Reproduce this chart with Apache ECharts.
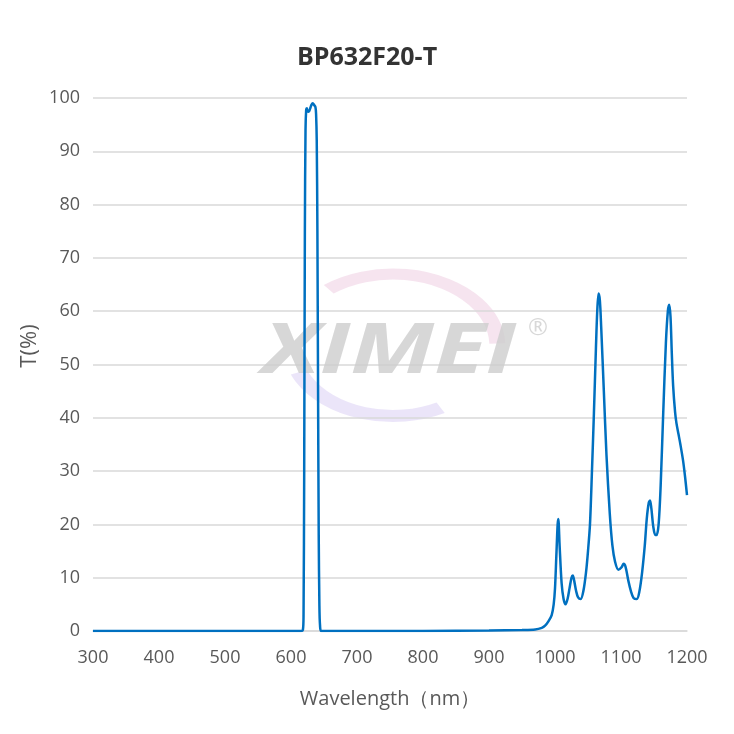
<!DOCTYPE html>
<html><head><meta charset="utf-8">
<script src="https://cdn.jsdelivr.net/npm/echarts@6/dist/echarts.min.js"></script>
<style>html,body{margin:0;padding:0;background:#fff}#c{width:734px;height:734px}</style>
</head><body><div id="c"></div>
<script>
const titleText = 'BP632F20-T';
const xName = 'Wavelength（nm）';
const yName = 'T(%)';
const wavelength = [300,400,500,600,615,618,619,620,621,622,623,624,625,627,629,631,633,635,637,638,639,640,641,642,643,644,646,700,800,900,950,970,980,985,990,995,998,1000,1002,1004,1005,1007,1010,1013,1016,1019,1022,1025,1027,1029,1032,1035,1039,1043,1047,1050,1053,1056,1059,1062,1064,1066,1068,1070,1074,1078,1083,1087,1091,1096,1101,1104,1107,1111,1115,1119,1124,1128,1132,1136,1139,1142,1144,1146,1149,1152,1154,1157,1160,1164,1168,1171,1173,1175,1177,1179,1182,1184,1187,1190,1194,1197,1200];
const transmission = [0,0,0,0,0,0.2,3,30,75,94,97.8,98.1,97.6,97.4,98,98.7,99,98.7,98.3,97,92,75,45,18,5,1,0,0,0,0.1,0.2,0.3,0.6,1,1.8,3,5,8,14,20,21,16,9,6,5,6,8,10,10.4,9.5,7.5,6.3,6,7.5,11,15,20,30,41,53,60,63.3,62,57,45,33,22,16,13,11.5,12,12.6,12,9.5,7.5,6.2,6,7.5,11,16,21,24,24.5,23,19.5,18,18,20,27,41,54,60,61.2,59,52,46,41,39,37,35,32,29,25.5];

const chart = echarts.init(document.getElementById('c'));
const font = '"Open Sans", "Noto Sans", sans-serif';
const deg = Math.PI / 180;
chart.setOption({
  animation: false,
  backgroundColor: '#fff',
  title: {text: titleText, left: 'center', top: 40,
    textStyle: {fontFamily: font, fontSize: 25, fontWeight: 'bold', color: '#333'}},
  graphic: [{
    type: 'arc', z: 0, silent: true, x: 393, y: 346, scaleX: 1.45,
    shape: {cx: 0, cy: 0, r: 72, startAngle: 232 * deg, endAngle: 358 * deg, clockwise: true},
    style: {stroke: 'rgba(240,210,228,0.6)', lineWidth: 11, fill: null}
  },{
    type: 'arc', z: 0, silent: true, x: 393, y: 346, scaleX: 1.45,
    shape: {cx: 0, cy: 0, r: 70, startAngle: 62 * deg, endAngle: 158 * deg, clockwise: true},
    style: {stroke: 'rgba(222,212,245,0.6)', lineWidth: 12, fill: null}
  },{
    type: 'text', left: 262, top: 318, z: 1, scaleX: 1.36, silent: true,
    style: {text: 'XIMEI', font: 'italic bold 70px "Open Sans", sans-serif', fill: 'rgba(205,205,205,0.8)'}
  },{
    type: 'text', left: 528, top: 316, z: 1, silent: true,
    style: {text: '®', font: '24px "Open Sans", sans-serif', fill: 'rgba(190,190,190,0.6)'}
  },{
    type: 'text', x: 30, y: 346, rotation: Math.PI / 2, z: 1,
    style: {text: yName, font: '22px "Open Sans", sans-serif', fill: '#595959', align: 'center', verticalAlign: 'middle'}
  }],
  grid: {left: 93, right: 47, top: 98, bottom: 103},
  xAxis: {
    type: 'value', min: 300, max: 1200, interval: 100,
    name: xName, nameLocation: 'middle', nameGap: 58,
    nameTextStyle: {fontFamily: font, fontSize: 20, color: '#595959'},
    axisLine: {show: true, lineStyle: {color: '#d9d9d9', width: 1.5}},
    axisTick: {show: false},
    axisLabel: {fontFamily: font, fontSize: 18, color: '#595959', margin: 18, formatter: v => String(v)},
    splitLine: {show: false}
  },
  yAxis: {
    type: 'value', min: 0, max: 100, interval: 10,
    axisLine: {show: false}, axisTick: {show: false},
    axisLabel: {fontFamily: font, fontSize: 18, color: '#595959', margin: 13},
    splitLine: {lineStyle: {color: '#d9d9d9', width: 1.5}}
  },
  series: [{
    type: 'line', data: wavelength.map((w, i) => [w, transmission[i]]),
    showSymbol: false, smooth: 0.3, z: 5,
    lineStyle: {color: '#0070c0', width: 2.5}
  }]
});
</script></body></html>
